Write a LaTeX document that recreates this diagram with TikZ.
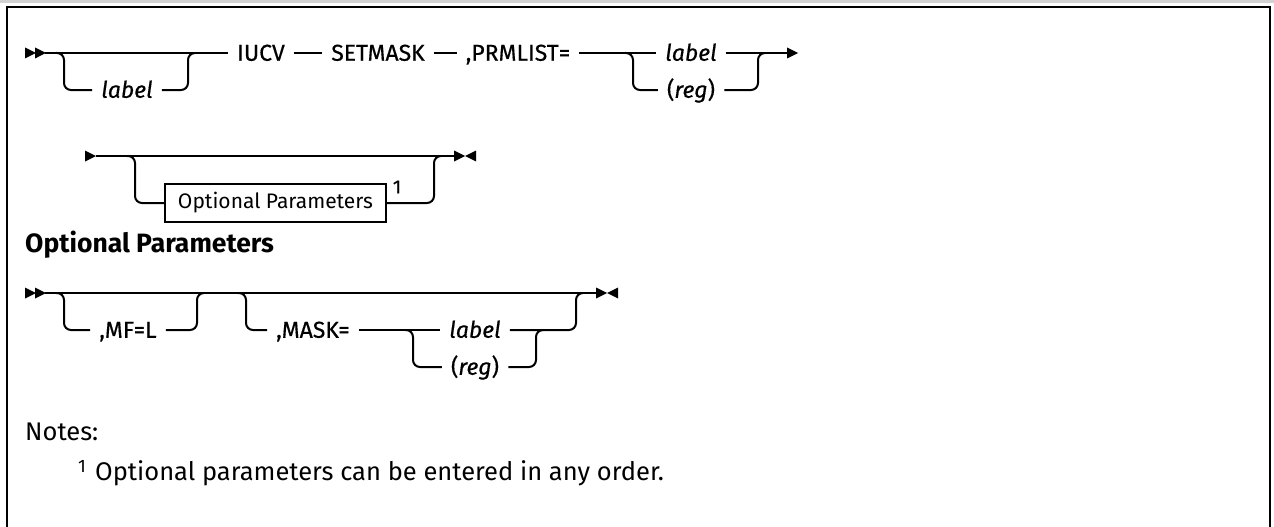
\documentclass[tikz,border=0pt]{standalone}
\usepackage{fontspec}
\setmainfont{Fira Sans}
\newfontfamily\kwfam[FakeBold=0.5]{Fira Sans}
\begin{document}
\begin{tikzpicture}[x=1pt,y=-1pt,
  ln/.style={line width=2pt, rounded corners=7pt},
  kw/.style={font=\kwfam\fontsize{23}{27}\selectfont, inner xsep=9pt, inner ysep=0pt, text height=15.5pt, text depth=0pt},
  var/.style={kw, font=\kwfam\itshape\fontsize{23}{27}\selectfont},
  optbox/.style={draw, line width=1.8pt, minimum width=221pt, minimum height=38pt, inner sep=0pt, font=\fontsize{21}{25}\selectfont},
  supnum/.style={inner sep=0pt, font=\kwfam\fontsize{19}{22}\selectfont},
  txt/.style={inner sep=0pt, anchor=base west, font=\fontsize{25.5}{30}\selectfont},
  rtri/.pic={\fill (0,-5.5) -- (11,0) -- (0,5.5) -- cycle;},
  ltri/.pic={\fill (0,-5.5) -- (-11,0) -- (0,5.5) -- cycle;}]
\useasboundingbox (0,0) rectangle (1274,527);
% frame
\draw[gray!35, line width=3pt] (0,1.5) -- (1274,1.5);
\draw[line width=2.2pt] (7,527) -- (7,7) -- (1270,7) -- (1270,527);

% ---- Row 1
\pic at (25,53) {rtri};
\pic at (35,53) {rtri};
\coordinate (s1) at (45,53);
\node[kw] (iucv) at (261,53) {IUCV};
\node[kw] (setm) at (378,53) {SETMASK};
\node[kw] (prm) at (518,53) {,PRMLIST=};
\node[var] (lab1) at (127,90) {label};
\node[var] (lab2) at (691,53) {label};
\node[var] (reg1) at (691,90) {\upshape(\itshape reg\upshape)};
\coordinate (e1) at (787,53);
\pic at (e1) {rtri};
\draw[ln] (s1) -- (iucv.west);
\draw[ln] (iucv.east) -- (setm.west);
\draw[ln] (setm.east) -- (prm.west);
\draw[ln] (prm.east) -- (lab2.west);
\draw[ln] (lab2.east) -- (e1);
\coordinate (b1) at (56,53);
\coordinate (b1r) at (188,53);
\draw[ln] (b1) -- ++(8,0) |- (lab1.west);
\draw[ln] (lab1.east) -| (b1r) -- ++(7,0);
\coordinate (c1) at (625,53);
\coordinate (c1r) at (758,53);
\draw[ln] (c1) -- ++(8,0) |- (reg1.west);
\draw[ln] (reg1.east) -| (c1r) -- ++(7,0);

% ---- Row 2
\pic at (85,156) {rtri};
\coordinate (s2) at (96,156);
\coordinate (e2) at (454,156);
\draw[ln] (s2) -- (e2);
\pic at (e2) {rtri};
\pic at (476,156) {ltri};
\node[optbox] (opt) at (275.5,203) {Optional Parameters};
\node[supnum] (n1) at (397,187) {1};
\coordinate (b2) at (127,156);
\coordinate (b2r) at (434,156);
\draw[ln] (b2) -- ++(8,0) |- (opt.west);
\draw[ln] (opt.east) -| (b2r) -- ++(7,0);

% ---- Heading
\node[txt, font=\bfseries\fontsize{26.5}{31}\selectfont] (hd) at (25,252) {Optional Parameters};

% ---- Row 3
\pic at (25,293) {rtri};
\pic at (35,293) {rtri};
\coordinate (s3) at (45,293);
\coordinate (e3) at (596,293);
\draw[ln] (s3) -- (e3);
\pic at (e3) {rtri};
\pic at (618,293) {ltri};
\node[kw] (mf) at (128,330) {,MF=L};
\node[kw] (mask) at (313,330) {,MASK=};
\node[var] (lab3) at (475,330) {label};
\node[var] (reg3) at (475,367) {\upshape(\itshape reg\upshape)};
\coordinate (b3) at (56,293);
\coordinate (b3r) at (197,293);
\draw[ln] (b3) -- ++(8,0) |- (mf.west);
\draw[ln] (mf.east) -| (b3r) -- ++(7,0);
\coordinate (b4) at (238,293);
\coordinate (b4r) at (576,293);
\draw[ln] (b4) -- ++(8,0) |- (mask.west);
\draw[ln] (mask.east) -- (lab3.west);
\draw[ln] (lab3.east) -| (b4r) -- ++(7,0);
\coordinate (b5) at (405,330);
\coordinate (b5r) at (536,330);
\draw[ln] (b5) -- ++(8,0) |- (reg3.west);
\draw[ln] (reg3.east) -| (b5r) -- ++(7,0);

% ---- Notes
\node[txt] (notes) at (25,440) {Notes:};
\node[txt, font=\fontsize{18}{21}\selectfont] (fn1) at (78,472) {1};
\node[txt] (fn) at (95,480) {Optional parameters can be entered in any order.};
\end{tikzpicture}
\end{document}
